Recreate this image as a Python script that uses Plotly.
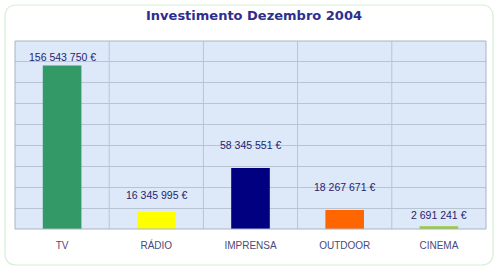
import plotly.graph_objects as go

categories = ["TV", "RÁDIO", "IMPRENSA", "OUTDOOR", "CINEMA"]
values = [156543750, 16345995, 58345551, 18267671, 2691241]
value_labels = ["156 543 750 €", "16 345 995 €", "58 345 551 €", "18 267 671 €", "2 691 241 €"]
bar_colors = ["#339966", "#ffff00", "#000080", "#ff6600", "#99cc33"]
label_shift = [9, 17, 23, 23, 11]

W, H = 500, 270
ml, mr, mt, mb = 15, 14, 41, 41
pw, ph = W - ml - mr, H - mt - mb

def px(x):
    return (x - ml) / pw

def py(y):
    return (H - mb - y) / ph

fig = go.Figure()
fig.add_trace(go.Bar(
    x=categories, y=values, marker=dict(color=bar_colors, line=dict(width=0)),
    width=0.41, hoverinfo="skip"
))

for c, v, t, s in zip(categories, values, value_labels, label_shift):
    fig.add_annotation(x=c, y=v, text=t, showarrow=False, yanchor="middle",
                       yshift=s, font=dict(family="Liberation Sans, Arial", size=10.5, color="#1f2470"))

# rounded outer panel
x0, y0, x1, y1, r = 5, 5, 493, 265, 12
path = (f"M {px(x0+r)},{py(y0)} L {px(x1-r)},{py(y0)} Q {px(x1)},{py(y0)} {px(x1)},{py(y0+r)} "
        f"L {px(x1)},{py(y1-r)} Q {px(x1)},{py(y1)} {px(x1-r)},{py(y1)} "
        f"L {px(x0+r)},{py(y1)} Q {px(x0)},{py(y1)} {px(x0)},{py(y1-r)} "
        f"L {px(x0)},{py(y0+r)} Q {px(x0)},{py(y0)} {px(x0+r)},{py(y0)} Z")
fig.add_shape(type="path", path=path, xref="paper", yref="paper",
              line=dict(color="#d6f0d6", width=1.2), fillcolor="rgba(0,0,0,0)", layer="below")
fig.add_shape(type="rect", x0=0, x1=1, y0=0, y1=1, xref="paper", yref="paper",
              line=dict(color="#a8b4c4", width=1), layer="above")
# vertical separators between categories
for i in range(1, len(categories)):
    fig.add_shape(type="line", x0=i - 0.5, x1=i - 0.5, y0=0, y1=1, xref="x", yref="paper",
                  line=dict(color="#b8c4d4", width=1), layer="below")

fig.update_layout(
    width=W, height=H, margin=dict(l=ml, r=mr, t=mt, b=mb),
    paper_bgcolor="white", plot_bgcolor="#dde9f8",
    showlegend=False, bargap=0.59,
    title=dict(text="<b>Investimento Dezembro 2004</b>", x=(254) / W, xanchor="center",
               y=1 - 15 / H, yanchor="middle", yref="container",
               font=dict(family="DejaVu Sans", size=13, color="#2e2e8e")),
    xaxis=dict(showgrid=False, ticks="outside", ticklen=7, tickcolor="rgba(0,0,0,0)",
               range=[-0.5, 4.5],
               tickfont=dict(family="Liberation Sans, Arial", size=10, color="#4a4a78")),
    yaxis=dict(range=[0, 180000000], dtick=20000000, showticklabels=False,
               gridcolor="#b8c4d4", gridwidth=1, zeroline=False, ticks=""),
)

fig.write_html("out.html")
